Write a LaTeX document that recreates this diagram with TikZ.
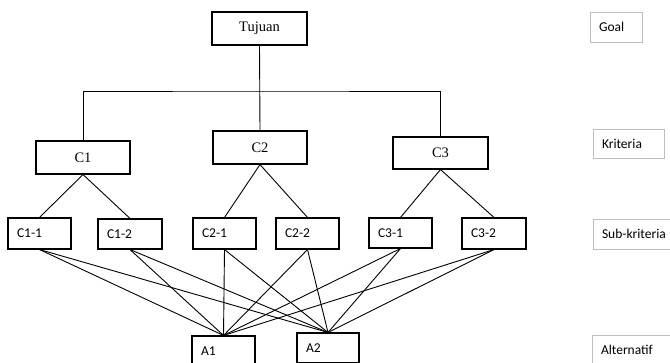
\documentclass[tikz,border=0pt]{standalone}
\usepackage{fontspec}
\setmainfont{Liberation Serif}
\newfontfamily\calfont{Carlito}
\begin{document}
\begin{tikzpicture}[x=1pt,y=-1pt,
  mainbox/.style={draw, line width=1.1pt, rectangle, inner sep=0pt,
    font=\fontsize{14.5}{16}\selectfont},
  subbox/.style={draw, line width=1.1pt, rectangle, inner xsep=9pt, inner ysep=0pt,
    align=left, font=\calfont\fontsize{13.5}{15}\selectfont},
  levelbox/.style={draw=black!25, line width=0.9pt, rectangle, inner xsep=9pt, inner ysep=0pt,
    align=left, font=\calfont\fontsize{13.5}{15}\selectfont},
  link/.style={line width=0.9pt}]
\useasboundingbox (0,0) rectangle (670,363);

% goal and criteria
\node[mainbox, minimum width=95pt, minimum height=33pt] (T) at (259.5,28.5) {Tujuan};
\node[mainbox, minimum width=94pt, minimum height=33pt] (C1) at (83,157.5) {C1};
\node[mainbox, minimum width=94pt, minimum height=33pt] (C2) at (260,147.5) {C2};
\node[mainbox, minimum width=95pt, minimum height=32pt] (C3) at (440.5,153) {C3};

% sub-criteria
\node[subbox, text width=45pt, minimum height=31pt] (C11) at (39.5,233.5) {C1-1};
\node[subbox, text width=46pt, minimum height=30pt] (C12) at (130,234) {C1-2};
\node[subbox, text width=45pt, minimum height=31pt] (C21) at (224.5,233.5) {C2-1};
\node[subbox, text width=45pt, minimum height=31pt] (C22) at (307.5,233.5) {C2-2};
\node[subbox, text width=45pt, minimum height=30pt] (C31) at (400.5,233) {C3-1};
\node[subbox, text width=46pt, minimum height=31pt] (C32) at (494,233.5) {C3-2};

% alternatives
\node[subbox, text width=45pt, minimum height=30pt] (A1) at (223.5,351) {A1};
\node[subbox, text width=44pt, minimum height=30pt] (A2) at (328,348) {A2};

% level captions (the two lower ones run past the right edge)
\node[levelbox, text width=34pt, minimum height=30pt] (Lg) at (616,27) {Goal};
\node[levelbox, text width=53pt, minimum height=29pt] (Lk) at (628.5,143.5) {Kriteria};
\node[levelbox, text width=72pt, minimum height=30pt] (Ls) at (638,234) {Sub-kriteria};
\node[levelbox, text width=72pt, minimum height=30pt] (La) at (637,350) {Alternatif};

% goal to criteria
\coordinate (bar) at (260,91);
\draw[link] (T.south) -- (C2.north);
\draw[link] (C1.north) |- (bar) -| (C3.north);

% criteria to sub-criteria
\foreach \p/\c in {C1/C11, C1/C12, C2/C21, C2/C22, C3/C31, C3/C32}
  \draw[link] (\p.south) -- (\c.north);

% sub-criteria to alternatives
\foreach \s in {C11, C12, C21, C22, C31, C32} {
  \draw[link] (\s.south) -- (A1.north);
  \draw[link] (\s.south) -- (A2.north);
}
\end{tikzpicture}
\end{document}
